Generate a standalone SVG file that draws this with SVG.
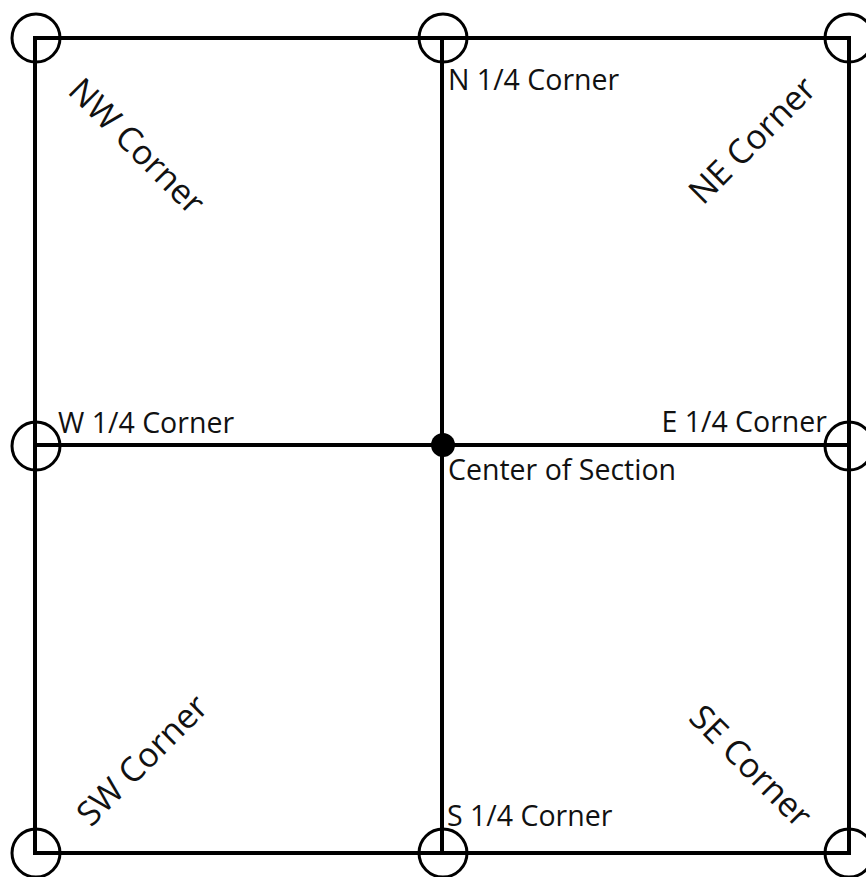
<svg xmlns="http://www.w3.org/2000/svg" width="866" height="877" viewBox="0 0 866 877">
<style>
.ln{stroke:#000;stroke-width:4;fill:none;stroke-linecap:square}
.mk{stroke:#000;stroke-width:3;fill:none}
.t{font-family:"Open Sans","Liberation Sans",sans-serif;font-size:28.5px;fill:#111}
.r{font-family:"Open Sans","Liberation Sans",sans-serif;font-size:34px;fill:#111;text-anchor:middle}
</style>
<rect width="866" height="877" fill="#fff"/>
<g id="connectors">
<rect class="ln" x="35" y="38" width="814" height="815"/>
<line class="ln" x1="442" y1="38" x2="442" y2="853"/>
<line class="ln" x1="35" y1="445" x2="849" y2="445"/>
</g>
<g id="nw"><circle class="mk" cx="36" cy="38" r="24"/><text class="r" transform="translate(137,146) rotate(45)" y="12">NW Corner</text></g>
<g id="n"><circle class="mk" cx="443" cy="38" r="24"/><text class="t" x="448" y="90">N 1/4 Corner</text></g>
<g id="ne"><circle class="mk" cx="849" cy="38" r="24"/><text class="r" transform="translate(752,140) rotate(-45)" y="12">NE Corner</text></g>
<g id="w"><circle class="mk" cx="36" cy="446" r="24"/><text class="t" x="58" y="433">W 1/4 Corner</text></g>
<g id="c"><circle cx="443" cy="445" r="12" fill="#000"/><text class="t" x="448" y="480">Center of Section</text></g>
<g id="e"><circle class="mk" cx="849" cy="446" r="24"/><text class="t" x="827" y="432" text-anchor="end">E 1/4 Corner</text></g>
<g id="sw"><circle class="mk" cx="36" cy="853" r="24"/><text class="r" transform="translate(142,760) rotate(-45)" y="12">SW Corner</text></g>
<g id="s"><circle class="mk" cx="443" cy="853" r="24"/><text class="t" x="447" y="826">S 1/4 Corner</text></g>
<g id="se"><circle class="mk" cx="849" cy="853" r="24"/><text class="r" transform="translate(751,766) rotate(45)" y="12">SE Corner</text></g>
</svg>
